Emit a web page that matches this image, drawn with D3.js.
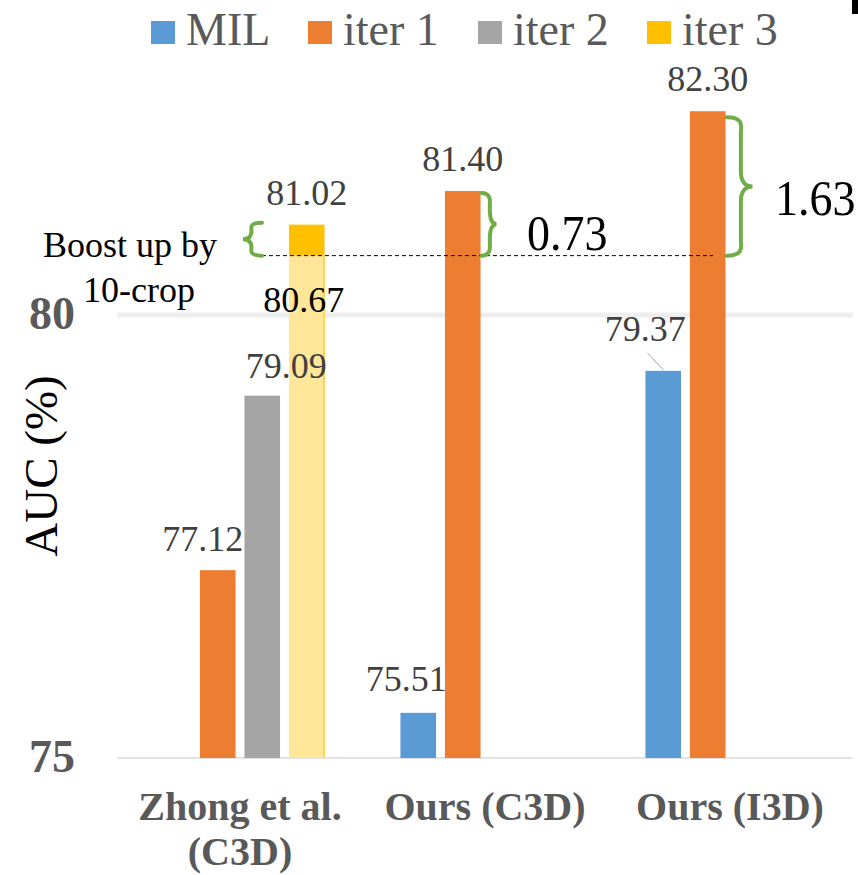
<!DOCTYPE html>
<html>
<head>
<meta charset="utf-8">
<script src="https://cdn.jsdelivr.net/npm/d3@7"></script>
<style>
  html, body { margin: 0; padding: 0; background: #fff; }
  svg { display: block; font-family: "Liberation Serif", "Times New Roman", serif; }
</style>
</head>
<body>
<svg id="chart" width="858" height="875"></svg>
<script>
// ---- data ----
const categories = ["Zhong et al. (C3D)", "Ours (C3D)", "Ours (I3D)"];
const categoryLines = [["Zhong et al.", "(C3D)"], ["Ours (C3D)"], ["Ours (I3D)"]];
const seriesNames = ["MIL", "iter 1", "iter 2", "iter 3"];
const milValues   = [null, 75.51, 79.37];
const iter1Values = [77.12, 81.40, 82.30];
const iter2Values = [79.09, null, null];
const iter3Values = [81.02, null, null];      // 10-crop result
const iter3SingleCrop = [80.67, null, null];  // single-crop result
const yTicks = [75, 80];
const boostLabels = ["0.73", "1.63"];

const seriesValues = [milValues, iter1Values, iter2Values, iter3Values];
const colors = { "MIL": "#5B9BD5", "iter 1": "#ED7D31", "iter 2": "#A5A5A5", "iter 3": "#FFC000" };
const singleCropColor = "#FFE699";
const FONT = "'Liberation Serif', 'Times New Roman', serif";

const svg = d3.select("#chart");

// ---- scales ----
const y = d3.scaleLinear().domain([75, 82.5]).range([758, 93.5]);
const x0 = d3.scaleBand().domain(categories).range([117.5, 852.5]).padding(0);
const x1 = d3.scaleBand().domain(seriesNames).range([33.5, 211.5]).paddingInner(0.2).paddingOuter(0.1);
const bw = x1.bandwidth();

// ---- grid / baseline ----
svg.append("line")
  .attr("x1", 117.5).attr("x2", 852.5)
  .attr("y1", y(80)).attr("y2", y(80))
  .attr("stroke", "#EEEEEE").attr("stroke-width", 5);
svg.append("line")
  .attr("x1", 117.5).attr("x2", 852.5)
  .attr("y1", y(75)).attr("y2", y(75))
  .attr("stroke", "#D9D9D9").attr("stroke-width", 1.5);

// ---- y axis labels ----
const yAxis = d3.axisLeft(y).tickValues(yTicks).tickSize(0).tickPadding(0).tickFormat(d3.format("d"));
const yg = svg.append("g").attr("transform", "translate(75,0)").call(yAxis);
yg.select(".domain").remove();
yg.selectAll("text")
  .attr("x", 0).attr("dy", 13)
  .attr("font-family", FONT)
  .attr("font-size", 46).attr("font-weight", "bold")
  .attr("fill", "#595959").attr("text-anchor", "end");

svg.append("text")
  .attr("transform", "translate(57,466) rotate(-90)")
  .attr("text-anchor", "middle")
  .attr("font-family", FONT)
  .attr("font-size", 47).attr("fill", "#000")
  .text("AUC (%)");

// ---- bars ----
const bars = [];
seriesNames.forEach((s, si) => {
  seriesValues[si].forEach((v, ci) => {
    if (v != null) bars.push({ series: s, cat: categories[ci], ci, value: v });
  });
});

const barX = d => x0(d.cat) + x1(d.series);

// single-crop iter 3 portion (light yellow, base at 75)
const singleBars = iter3SingleCrop.map((v, ci) => ({ cat: categories[ci], value: v })).filter(d => d.value != null);
svg.selectAll("rect.single").data(singleBars).join("rect")
  .attr("class", "single")
  .attr("x", d => x0(d.cat) + x1("iter 3"))
  .attr("width", bw)
  .attr("y", d => y(d.value))
  .attr("height", d => y(75) - y(d.value))
  .attr("fill", singleCropColor);
svg.selectAll("line.singleEdge").data(singleBars).join("line")
  .attr("class", "singleEdge")
  .attr("x1", d => x0(d.cat) + x1("iter 3") + bw - 0.5)
  .attr("x2", d => x0(d.cat) + x1("iter 3") + bw - 0.5)
  .attr("y1", d => y(d.value)).attr("y2", y(75))
  .attr("stroke", "#FFC000").attr("stroke-width", 1);

svg.selectAll("rect.bar").data(bars).join("rect")
  .attr("class", "bar")
  .attr("x", barX)
  .attr("width", bw)
  .attr("y", d => y(d.value))
  .attr("height", d => {
    if (d.series === "iter 3") return y(iter3SingleCrop[d.ci]) - y(d.value);
    return y(75) - y(d.value);
  })
  .attr("fill", d => colors[d.series]);

// ---- value labels ----
const labelShift = { "MIL|1": [-12, -22], "MIL|2": [-18, -30], "iter 1|0": [-15, -19], "iter 2|0": [24, -18] };
svg.selectAll("text.val").data(bars).join("text")
  .attr("class", "val")
  .attr("x", d => barX(d) + bw / 2 + ((labelShift[d.series + "|" + d.ci] || [0, -20])[0]))
  .attr("y", d => y(d.value) + ((labelShift[d.series + "|" + d.ci] || [0, -20])[1]))
  .attr("text-anchor", "middle")
  .attr("font-family", FONT)
  .attr("font-size", 36).attr("fill", "#404040")
  .text(d => d.value.toFixed(2));

// leader line for the I3D MIL label
const milI3D = bars.find(d => d.series === "MIL" && d.ci === 2);
svg.append("line")
  .attr("x1", barX(milI3D) + bw / 2 - 16).attr("y1", y(milI3D.value) - 18)
  .attr("x2", barX(milI3D) + bw / 2).attr("y2", y(milI3D.value) - 1)
  .attr("stroke", "#A6A6A6").attr("stroke-width", 1);

// single-crop value label
singleBars.forEach(d => {
  svg.append("text")
    .attr("x", x0(d.cat) + x1("iter 3") + bw / 2 - 3)
    .attr("y", y(d.value) + 56)
    .attr("text-anchor", "middle")
    .attr("font-family", FONT)
    .attr("font-size", 36).attr("fill", "#000")
    .text(d.value.toFixed(2));
});

// ---- annotations ----
const refVal = iter3SingleCrop[0];
const refY = y(refVal);
const zX = x0(categories[0]) + x1("iter 3");
const c3dX = x0(categories[1]) + x1("iter 1");
const i3dX = x0(categories[2]) + x1("iter 1");

svg.append("line")
  .attr("x1", zX - 27).attr("x2", i3dX + 23)
  .attr("y1", refY).attr("y2", refY)
  .attr("stroke", "#000").attr("stroke-width", 1)
  .attr("stroke-dasharray", "4,3");

// curly brace path between y0 (top) and y1 (bottom), opening to `dir`
function brace(xBase, y0, y1, depth, dir) {
  const m = (y0 + y1) / 2;
  const d = depth * dir;
  const q = Math.min(10, (y1 - y0) / 6);
  return `M${xBase},${y0}` +
    `C${xBase + d * 0.7},${y0} ${xBase + d * 0.55},${y0 + q} ${xBase + d * 0.55},${y0 + q * 1.5}` +
    `L${xBase + d * 0.55},${m - q * 1.5}` +
    `C${xBase + d * 0.55},${m - q * 0.4} ${xBase + d * 0.75},${m} ${xBase + d},${m}` +
    `C${xBase + d * 0.75},${m} ${xBase + d * 0.55},${m + q * 0.4} ${xBase + d * 0.55},${m + q * 1.5}` +
    `L${xBase + d * 0.55},${y1 - q * 1.5}` +
    `C${xBase + d * 0.55},${y1 - q} ${xBase + d * 0.7},${y1} ${xBase},${y1}`;
}
const braceStyle = sel => sel.attr("fill", "none").attr("stroke", "#70AD47")
  .attr("stroke-width", 4).attr("stroke-linecap", "round");

svg.append("path").attr("d", brace(zX - 27, y(iter3Values[0]) - 2, refY, 19, -1)).call(braceStyle);
svg.append("path").attr("d", brace(c3dX + bw + 1, y(iter1Values[1]) + 2, refY, 15, 1)).call(braceStyle);
svg.append("path").attr("d", brace(i3dX + bw + 1, y(iter1Values[2]) + 6, refY, 26, 1)).call(braceStyle);

svg.append("text").attr("x", 43).attr("y", 257).attr("font-family", FONT)
  .attr("font-size", 36).attr("fill", "#000").text("Boost up by");
svg.append("text").attr("x", 83).attr("y", 302).attr("font-family", FONT)
  .attr("font-size", 36).attr("fill", "#000").text("10-crop");

const boostPos = [[527, 250], [775, 215]];
boostLabels.forEach((t, i) => {
  svg.append("text")
    .attr("transform", `translate(${boostPos[i][0]},${boostPos[i][1]}) scale(1,1.12)`)
    .attr("font-family", FONT)
    .attr("font-size", 46).attr("fill", "#000")
    .text(t);
});

// ---- category labels (one text element per line) ----
categories.forEach((c, i) => {
  const cx = x0(c) + x0.bandwidth() / 2;
  categoryLines[i].forEach((ln, li) => {
    svg.append("text")
      .attr("x", cx).attr("y", 820 + li * 45)
      .attr("text-anchor", "middle")
      .attr("font-family", FONT)
      .attr("font-size", 40).attr("font-weight", "bold").attr("fill", "#595959")
      .text(ln);
  });
});

// ---- legend ----
const legendX = [151, 308, 478, 647];
const lg = svg.append("g").selectAll("g").data(seriesNames).join("g")
  .attr("transform", (d, i) => `translate(${legendX[i]},0)`);
lg.append("rect").attr("x", 0).attr("y", 21).attr("width", 24).attr("height", 23)
  .attr("fill", d => colors[d]);
lg.append("text").attr("x", 35).attr("y", 45)
  .attr("font-family", FONT)
  .attr("font-size", 46).attr("fill", "#595959")
  .text(d => d);

// small mark in the top-right corner
svg.append("rect").attr("x", 852).attr("y", 0).attr("width", 6).attr("height", 14).attr("fill", "#000");
</script>
</body>
</html>
